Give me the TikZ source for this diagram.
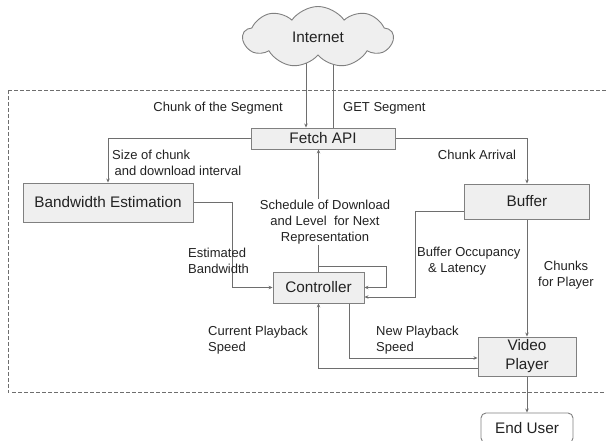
\documentclass[tikz,border=0pt]{standalone}
\usepackage{fontspec}
\setmainfont{Liberation Sans}
\usetikzlibrary{shapes.symbols,backgrounds,arrows.meta}
\definecolor{boxfill}{HTML}{EFEFEF}
\definecolor{boxline}{HTML}{808080}
\definecolor{wire}{HTML}{6E6E6E}
\definecolor{txt}{HTML}{222222}
\tikzset{
  box/.style={draw=boxline, fill=boxfill, line width=0.9pt, inner sep=0pt, align=center,
    font=\fontsize{15.3}{19}\selectfont, text=txt},
  lbl/.style={inner sep=0pt, font=\fontsize{13}{16}\selectfont, text=txt},
  arr/.style={draw=wire, line width=0.9pt, -{Stealth[length=4pt,width=3.5pt]}},
  frame/.style={draw=wire, line width=0.9pt, dash pattern=on 3.5pt off 2.5pt},
}
\begin{document}
\begin{tikzpicture}[x=1pt,y=-1pt]
\useasboundingbox (0,0) rectangle (606,440);
\draw[frame] (8,90) -- (612,90) (8,90) -- (8,392) -- (612,392);

\node[box, cloud, cloud puffs=9, cloud puff arc=110, aspect=2.4, minimum width=150pt, minimum height=61pt] (cloud) at (318,37) {Internet};
\node[box, minimum width=144pt, minimum height=21pt] (fetch) at (323,138.5) {Fetch API};
\node[box, minimum width=170pt, minimum height=39pt] (bw) at (108,202.5) {Bandwidth Estimation};
\node[box, minimum width=125pt, minimum height=35pt] (buffer) at (527,201.5) {Buffer};
\node[box, minimum width=91pt, minimum height=31pt] (ctrl) at (318.5,287.5) {Controller};
\node[box, minimum width=98pt, minimum height=39pt] (vp) at (527,356.5) {Video\\Player};
\node[box, fill=white, rounded corners=5pt, minimum width=92pt, minimum height=30pt] (eu) at (527,428) {End User};

\node[lbl, anchor=east] (l1) at (283,108) {Chunk of the Segment};
\node[lbl, anchor=west] (l2) at (343,108) {GET Segment};
\node[lbl, anchor=west, align=left] (l3) at (112,163) {Size of chunk\\\hspace{2.5pt}and download interval};
\node[lbl] (l4) at (477,155) {Chunk Arrival};
\node[lbl, anchor=west, align=left] (l5) at (188,260.5) {Estimated\\Bandwidth};
\node[lbl, align=center, fill=white, inner sep=1pt] (l6) at (325,222) {Schedule of Download\\and Level\ \ for Next\\Representation};
\node[lbl, anchor=west, align=left] (l7) at (417,261) {Buffer Occupancy\\\hspace{11pt}\& Latency};
\node[lbl, align=center] (l8) at (566,275.5) {Chunks\\for Player};
\node[lbl, anchor=west, align=left] (l9) at (208,340) {Current Playback\\Speed};
\node[lbl, anchor=west, align=left] (l10) at (376,340) {New Playback\\Speed};

\begin{pgfonlayer}{background}
\draw[arr] ([xshift=-12pt,yshift=8pt]cloud.south) -- ([xshift=-12pt]cloud.south |- fetch.north);
\draw[arr] ([xshift=15pt]cloud.south |- fetch.north) -- ([xshift=15pt,yshift=-2pt]cloud.south);
\draw[arr] (fetch.west) -| (bw.north);
\draw[arr] (fetch.east) -| (buffer.north);
\draw[arr] (ctrl.north) -- (ctrl.north |- fetch.south);
\draw[arr] ([yshift=5pt]ctrl.north) -| ([xshift=22pt]ctrl.east) -- (ctrl.east);
\draw[arr] ([yshift=-9.5pt]buffer.west) -| ([xshift=51pt,yshift=-9.5pt]ctrl.east) -- ([yshift=-9.5pt]ctrl.east);
\draw[arr] (bw.east) -- ++(39,0) |- (ctrl.west);
\draw[arr] (buffer.south) -- (vp.north);
\draw[arr] ([xshift=30.5pt]ctrl.south) |- ([yshift=-1.5pt]vp.west);
\draw[arr] ([yshift=-11.5pt]vp.west) -| (ctrl.south);
\draw[arr] (vp.south) -- (eu.north);
\end{pgfonlayer}
\end{tikzpicture}
\end{document}
